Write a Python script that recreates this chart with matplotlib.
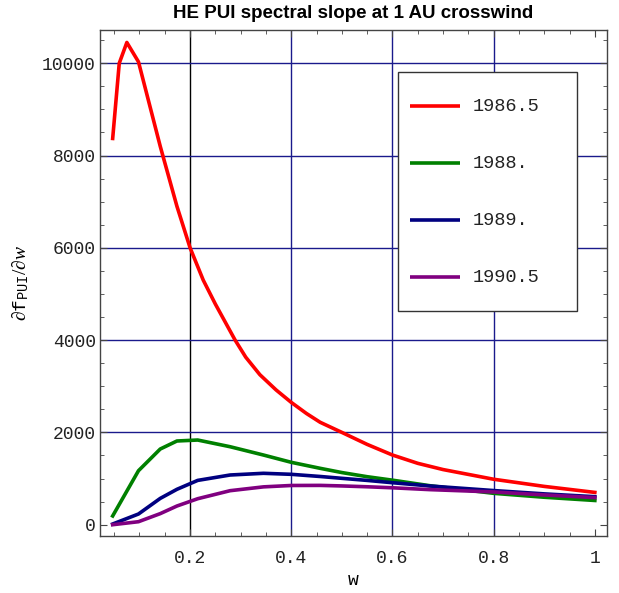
import numpy as np
import matplotlib
matplotlib.use('Agg')
import matplotlib.pyplot as plt
from matplotlib.ticker import MultipleLocator
from matplotlib.patches import Rectangle

# red curve sampled more densely at small w
w_red = [0.047, 0.060, 0.075, 0.098, 0.141, 0.174, 0.200, 0.226, 0.250, 0.289, 0.310,
         0.338, 0.370, 0.400, 0.430, 0.457, 0.500, 0.550, 0.600, 0.650, 0.700, 0.800,
         0.900, 1.000]
f_1986 = [8370, 10000, 10450, 10030, 8200, 6900, 6000, 5300, 4780, 4000, 3630,
          3250, 2920, 2650, 2410, 2220, 2000, 1740, 1510, 1330, 1195, 985,
          830, 700]

w_common = [0.047, 0.098, 0.141, 0.174, 0.215, 0.279, 0.345, 0.400, 0.457,
            0.500, 0.550, 0.600, 0.674, 0.800, 0.900, 1.000]
f_1988 = [190, 1170, 1640, 1814, 1835, 1690, 1510, 1352, 1222, 1130, 1040, 965, 845, 680, 595, 525]
f_1989 = [15, 232, 570, 767, 960, 1077, 1114, 1092, 1045, 1005, 960, 910, 839, 740, 668, 607]
f_1990 = [0, 65, 240, 405, 563, 737, 820, 850, 852, 840, 822, 800, 760, 710, 645, 588]

labels = ['1986.5', '1988.', '1989.', '1990.5']
colors = ['#ff0000', '#008000', '#000080', '#800080']

grid_x = [0.2, 0.4, 0.6, 0.8]
grid_y = [2000, 4000, 6000, 8000, 10000]
xticks = [0.2, 0.4, 0.6, 0.8, 1.0]
xticklabels = ['0.2', '0.4', '0.6', '0.8', '1']
yticks = [0, 2000, 4000, 6000, 8000, 10000]

plt.rcParams['mathtext.fontset'] = 'custom'
plt.rcParams['mathtext.rm'] = 'Liberation Serif'
plt.rcParams['mathtext.it'] = 'Liberation Serif:italic'
plt.rcParams['mathtext.tt'] = 'Liberation Mono'
mono = 'Liberation Mono'

fig = plt.figure(figsize=(6.19, 5.93), dpi=100)
ax = fig.add_axes([0.1616, 0.0961, 0.8190, 0.8533])

# grid (first vertical one is black in the original)
for i, gx in enumerate(grid_x):
    ax.axvline(gx, color='black' if i == 0 else '#1a1a8c', lw=1.0, zorder=1)
for gy in grid_y:
    ax.axhline(gy, color='#1a1a8c', lw=1.0, zorder=1)

series = [(w_red, f_1986), (w_common, f_1988), (w_common, f_1989), (w_common, f_1990)]
for (w, f), lab, c in zip(series, labels, colors):
    ax.plot(w, f, color=c, lw=2.6, label=lab, solid_joinstyle='round', zorder=3)

ax.set_xlim(0.022, 1.024)
ax.set_ylim(-245, 10720)
ax.set_xticks(xticks)
ax.set_xticklabels(xticklabels)
ax.set_yticks(yticks)
ax.xaxis.set_minor_locator(MultipleLocator(0.05))
ax.yaxis.set_minor_locator(MultipleLocator(500))
ax.tick_params(which='both', direction='in', top=True, right=True,
               labeltop=False, labelright=False, color='#444444')
ax.tick_params(which='major', length=5, width=0.8)
ax.tick_params(which='minor', length=3, width=0.6)
ax.tick_params(axis='x', pad=10)
ax.tick_params(axis='y', pad=3)
for lab in ax.get_xticklabels() + ax.get_yticklabels():
    lab.set_fontfamily(mono)
    lab.set_fontsize(13)
    lab.set_color('#222222')
for sp in ax.spines.values():
    sp.set_color('#444444')
    sp.set_linewidth(1.0)

ax.set_xlabel('w', fontfamily=mono, fontsize=13, labelpad=4)
ax.set_ylabel(r'$\partial\mathtt{f}_{\mathtt{PUI}}/\partial w$', fontsize=14, labelpad=8)
ax.set_title('HE PUI spectral slope at 1 AU crosswind', fontfamily='Liberation Sans',
             fontweight='bold', fontsize=13.5, pad=9)

# legend box, laid out like the original (tall box, wide row spacing)
ax.add_patch(Rectangle((0.588, 0.4453), 0.3534, 0.4711, transform=ax.transAxes,
                       facecolor='white', edgecolor='#333333', lw=1.0, zorder=5))
for i, (lab, c) in enumerate(zip(labels, colors)):
    yy = 0.8498 - i * 0.11265
    ax.plot([0.6114, 0.7101], [yy, yy], transform=ax.transAxes, color=c, lw=2.6,
            solid_capstyle='butt', zorder=6)
    ax.text(0.7357, yy, lab, transform=ax.transAxes, fontfamily=mono, fontsize=13.4,
            va='center', ha='left', color='#222222', zorder=6)

fig.savefig('out.png', dpi=100)
